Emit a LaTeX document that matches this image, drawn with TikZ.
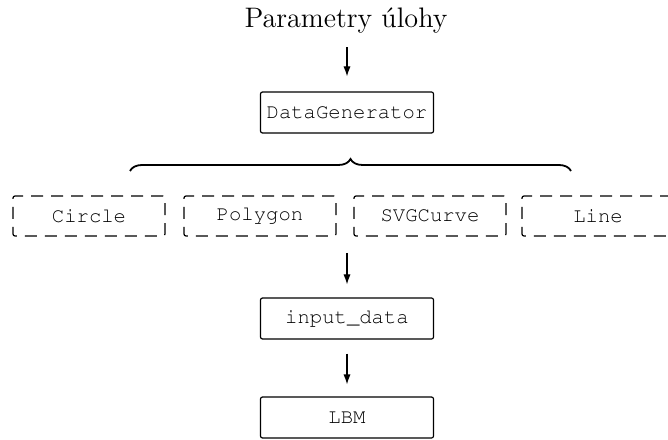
\documentclass[tikz,border=0pt]{standalone}
\usepackage{fontspec}
\usetikzlibrary{arrows.meta,decorations.pathreplacing}
\newcommand{\courierfont}{\fontencoding{T1}\fontfamily{pcr}\fontseries{m}\fontshape{n}\fontsize{10.3}{12}\selectfont}
\begin{document}
\begin{tikzpicture}[x=0.5pt,y=0.5pt,
  solidbox/.style={draw, line width=0.6pt, rounded corners=1pt, minimum width=86.5pt, minimum height=20.5pt, inner sep=0pt, font=\courierfont},
  dashbox/.style={draw, line width=0.6pt, rounded corners=1pt, dash pattern=on 6pt off 4pt, minimum width=76pt, minimum height=20pt, inner sep=0pt, font=\courierfont},
  flow/.style={line width=0.6pt, -{Latex[length=5pt,width=3.6pt]}},
  bracestyle/.style={line width=0.9pt, decorate, decoration={brace, amplitude=6pt}}]
\useasboundingbox (0,0) rectangle (668,439);
\node[anchor=base, inner sep=0pt, font=\fontsize{14.1}{16}\selectfont] (title) at (346,411) {Parametry úlohy};
\node[solidbox] (dg) at (347,326.5) {DataGenerator};
\coordinate (braceL) at (130,268);
\coordinate (braceR) at (571,268);
\draw[bracestyle] (braceL) -- (braceR);
\node[dashbox] (circle) at (89,223) {Circle};
\node[dashbox] (polygon) at (260,223) {Polygon};
\node[dashbox] (svg) at (430,223) {SVGCurve};
\node[dashbox] (line) at (598,223) {Line};
\coordinate (fan) at (347,202);
\node[solidbox] (input) at (347,120.5) {input\_data};
\node[solidbox] (lbm) at (347,21.5) {LBM};
\draw[flow, shorten <=6.6pt, shorten >=7.5pt] (title.south -| dg.north) -- (dg.north);
\draw[flow, shorten <=8pt, shorten >=6.5pt] (fan) -- (input.north);
\draw[flow, shorten <=7pt, shorten >=6pt] (input.south) -- (lbm.north);
\end{tikzpicture}
\end{document}
